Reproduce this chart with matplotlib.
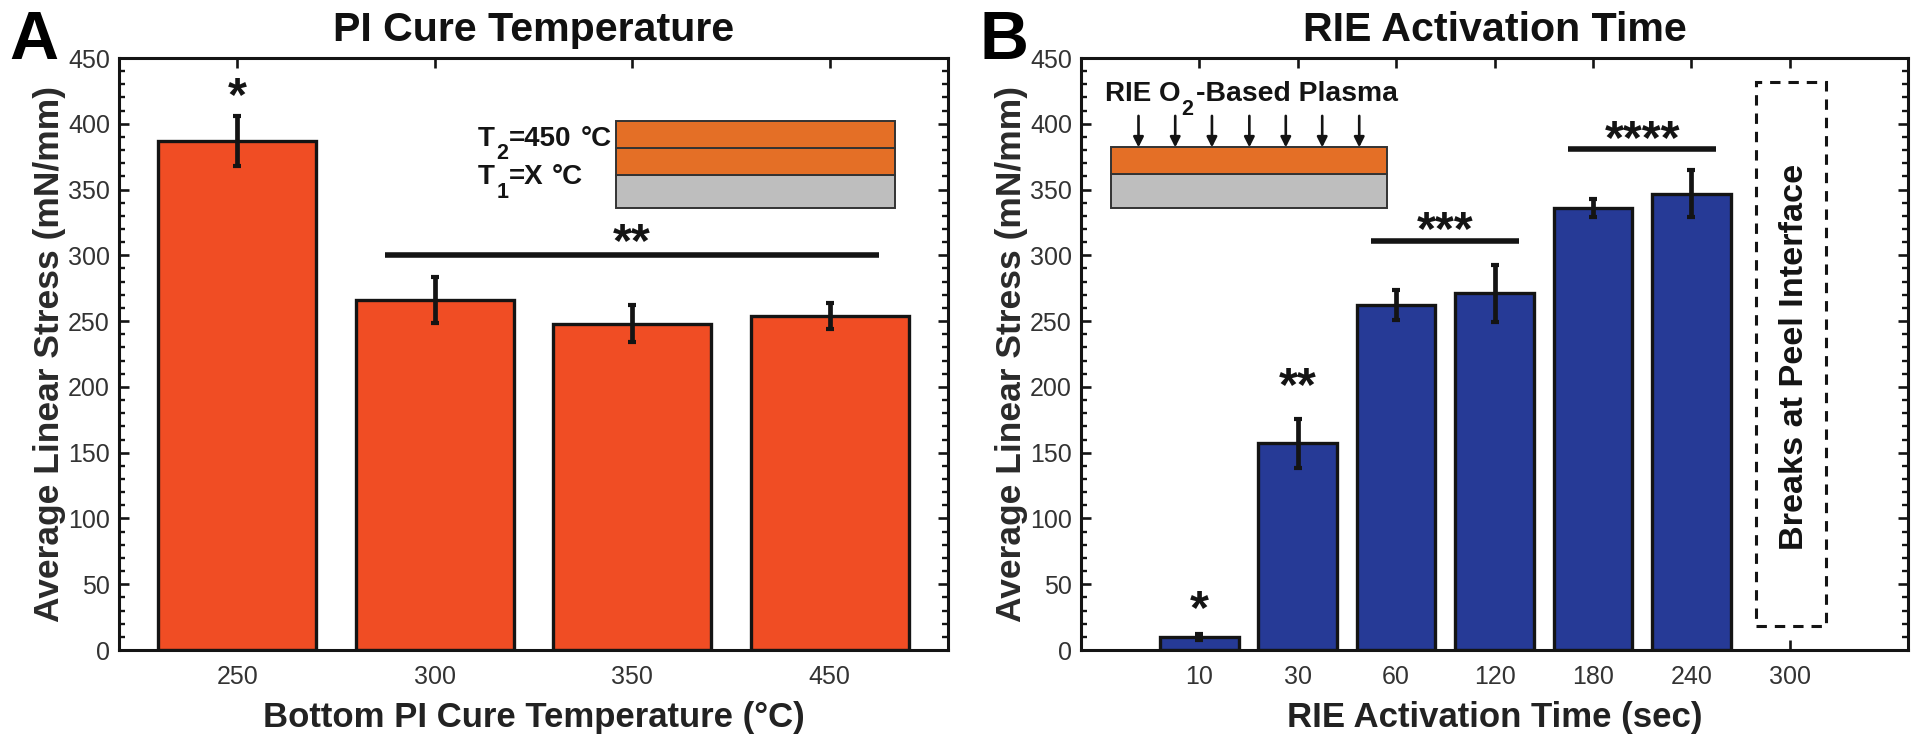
import matplotlib
matplotlib.use("Agg")
import matplotlib.pyplot as plt
from matplotlib.patches import Rectangle
from matplotlib.ticker import MultipleLocator

plt.rcParams['font.family'] = ['Liberation Sans', 'DejaVu Sans']

temps = ['250', '300', '350', '450']
temp_stress = [387, 266, 248, 254]
temp_err = [19, 17.5, 14, 10]

times = ['10', '30', '60', '120', '180', '240', '300']
time_stress = [10, 157, 262, 271, 336, 347]
time_err = [2.5, 18.5, 11.5, 22, 7, 18]

RED = '#F04D24'
BLUE = '#263A96'
ORANGE = '#E46F26'
GRAY = '#BEBEBE'
INK = '#141414'
TICKTXT = '#333333'
W, H = 1920, 743

fig = plt.figure(figsize=(W / 100, H / 100), dpi=100)


def ptext(x, y, s, size=20):
    """Bold text placed by its baseline in figure pixels."""
    fig.text(x / W, 1 - y / H, s, fontsize=size, fontweight='bold', ha='left',
             va='baseline', color=INK, zorder=6)


def panel(box, labels, vals, errs, color, xlim, title, xlabel, letter, letter_x):
    l, t, r, b = box
    ax = fig.add_axes([l / W, 1 - b / H, (r - l) / W, (b - t) / H])
    xs = list(range(1, len(vals) + 1))
    ax.bar(xs, vals, width=0.8, color=color, edgecolor=INK, linewidth=2.4, zorder=2)
    ax.errorbar(xs, vals, yerr=errs, fmt='none', ecolor=INK, elinewidth=3.4,
                capsize=3.2, capthick=3, zorder=3)
    ax.set_xlim(*xlim)
    ax.set_ylim(0, 450)
    ax.set_xticks(range(1, len(labels) + 1))
    ax.set_xticklabels(labels)
    ax.yaxis.set_major_locator(MultipleLocator(50))
    ax.yaxis.set_minor_locator(MultipleLocator(10))
    ax.tick_params(axis='both', which='major', direction='in', top=True, right=True,
                   length=7, width=1.9, labelsize=18, labelcolor=TICKTXT, color=INK)
    ax.tick_params(axis='x', which='major', pad=11)
    ax.tick_params(axis='y', which='major', pad=6.5)
    ax.tick_params(axis='y', which='minor', direction='in', left=True, right=True,
                   length=4, width=1.7, color=INK)
    for s in ax.spines.values():
        s.set_linewidth(2.2)
        s.set_color(INK)
    ax.set_ylabel('Average Linear Stress (mN/mm)', fontsize=25.5, fontweight='bold',
                  color='#2a2a2a', labelpad=1.5)
    ax.set_xlabel(xlabel, fontsize=25, fontweight='bold', color='#222222', labelpad=8.5)
    fig.text((l + r) / 2 / W, 1 - 41 / H, title, fontsize=29.6, fontweight='bold',
             ha='center', va='baseline', color='#111111')
    fig.text(letter_x / W, 1 - 59 / H, letter, fontsize=49, fontweight='bold',
             ha='left', va='baseline', color='black')
    return ax


def stars(ax, x, y, s, size=35):
    ax.text(x, y, s, fontsize=size, fontweight='bold', ha='center', va='center', color=INK, zorder=5)


def sig_bar(ax, x0, x1, y):
    ax.plot([x0, x1], [y, y], color=INK, lw=4, solid_capstyle='butt', zorder=5)


def stack(ax, x0, x1, ys, colors):
    for lo, hi, c in zip(ys[:-1], ys[1:], colors):
        ax.add_patch(Rectangle((x0, lo), x1 - x0, hi - lo, facecolor=c,
                               edgecolor='#333333', linewidth=1.4, zorder=4))


a = panel((119, 58, 948, 650), temps, temp_stress, temp_err, RED, (0.4, 4.6),
          'PI Cure Temperature', 'Bottom PI Cure Temperature (\u00b0C)', 'A', 9)
stars(a, 1.0, 420, '*')
stars(a, 3.0, 309, '**')
sig_bar(a, 1.75, 4.25, 300)
stack(a, 2.92, 4.33, [336, 361, 381.5, 402], [GRAY, ORANGE, ORANGE])
ptext(478, 146, 'T')
ptext(496, 159, '2', 15.5)
ptext(509, 146, '=450')
ptext(581, 146, '\u00b0C')
ptext(478, 184, 'T')
ptext(497, 198, '1', 15.5)
ptext(509, 184, '=X')
ptext(552, 184, '\u00b0C')

b = panel((1081, 58, 1908, 650), times, time_stress, time_err, BLUE, (-0.2, 8.2),
          'RIE Activation Time', 'RIE Activation Time (sec)', 'B', 980)
stars(b, 1, 30, '*')
stars(b, 2, 199.5, '**')
stars(b, 3.5, 318, '***')
stars(b, 5.5, 387.5, '****')
sig_bar(b, 2.75, 4.25, 311)
sig_bar(b, 4.75, 6.25, 381)
stack(b, 0.104, 2.905, [336, 361.5, 382], [GRAY, ORANGE])
ptext(1105, 101, 'RIE O')
ptext(1181, 115, '2', 15.5)
ptext(1196, 101, '-Based Plasma', 20.4)
for x in [0.384, 0.757, 1.13, 1.51, 1.88, 2.25, 2.626]:
    b.annotate('', xy=(x, 382), xytext=(x, 406),
               arrowprops=dict(arrowstyle='-|>', color=INK, lw=1.9, mutation_scale=15,
                               shrinkA=0, shrinkB=0), zorder=5)
b.add_patch(Rectangle((6.66, 18), 0.71, 414, fill=False, edgecolor=INK, linewidth=2.2,
                      linestyle=(0, (3.4, 2.6)), zorder=4))
b.text(7.05, 223, 'Breaks at Peel Interface', rotation=90, fontsize=24.7, fontweight='bold',
       ha='center', va='center', color=INK, zorder=5)

fig.savefig('out.png', dpi=100)
